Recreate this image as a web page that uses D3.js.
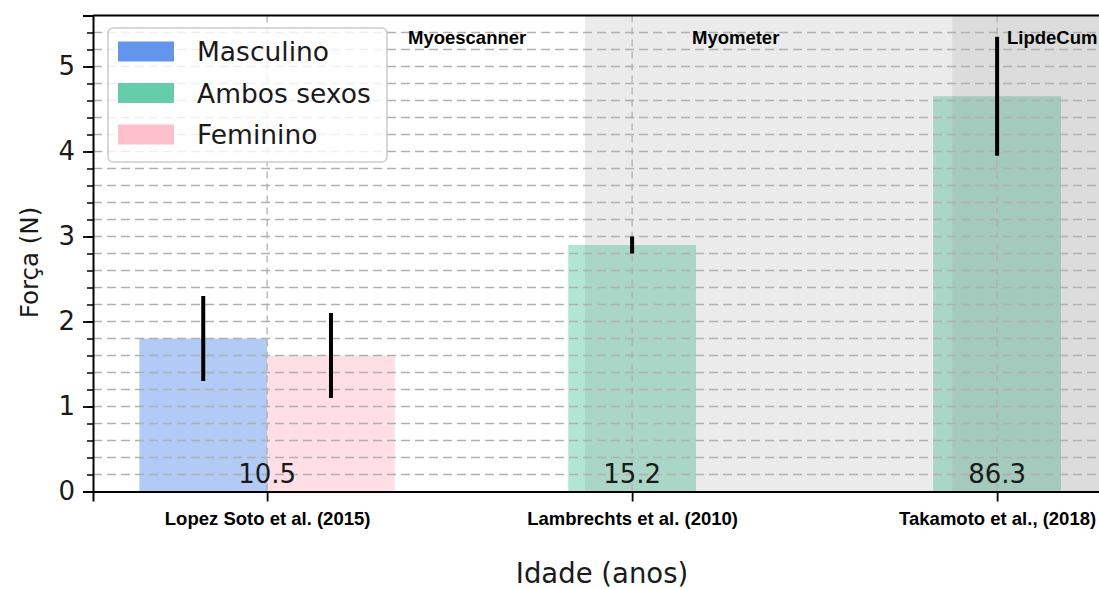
<!DOCTYPE html>
<html>
<head>
<meta charset="utf-8">
<script src="https://cdn.jsdelivr.net/npm/d3@7"></script>
<style>
  html, body { margin: 0; padding: 0; background: #ffffff; }
  svg { display: block; }
  text { font-family: "DejaVu Sans", sans-serif; }
</style>
</head>
<body>
<svg id="chart" width="1099" height="589"></svg>
<script>
// Studies on the x axis, with the mean age of each sample and the device used
const studies = ["Lopez Soto et al. (2015)", "Lambrechts et al. (2010)", "Takamoto et al., (2018)"];
const ages = ["10.5", "15.2", "86.3"];
const devices = ["Myoescanner", "Myometer", "LipdeCum"];

// Legend groups and their colours
const groups = ["Masculino", "Ambos sexos", "Feminino"];
const groupColors = ["#6495ED", "#66CDAA", "#FFC0CB"];

// One entry per bar: study index, group, mean force (N) and standard deviation
const barStudy = [0, 0, 1, 2];
const barGroup = ["Masculino", "Feminino", "Ambos sexos", "Ambos sexos"];
const barForce = [1.8, 1.6, 2.9, 4.65];
const barSd = [0.5, 0.5, 0.1, 0.7];

// Axis ticks
const yMajorTicks = [0, 1, 2, 3, 4, 5];
const yMinorStep = 0.2;

const svg = d3.select("#chart");
const pLeft = 93, pRight = 1111, pTop = 15.5, pBottom = 491.5;
const barWidth = 0.35;

const x = d3.scaleLinear().domain([-0.477, 2.312]).range([pLeft, pRight]);
const y = d3.scaleLinear().domain([0, 5.6]).range([pBottom, pTop]);
const color = d3.scaleOrdinal().domain(groups).range(groupColors);

const yMinorTicks = d3.range(0, 5.6001, yMinorStep).map(v => +v.toFixed(2));

const plot = svg.append("g");
plot.append("clipPath").attr("id", "clip")
  .append("rect").attr("x", pLeft).attr("y", pTop).attr("width", pRight - pLeft).attr("height", pBottom - pTop);
const inner = plot.append("g").attr("clip-path", "url(#clip)");

// Bars, offset side by side when a study reports both sexes
const barX = barStudy.map((s, i) => {
  const siblings = barStudy.map((t, j) => j).filter(j => barStudy[j] === s);
  const k = siblings.indexOf(i), n = siblings.length;
  return s + (k - (n - 1) / 2) * barWidth;
});

inner.selectAll("rect.bar").data(barForce).join("rect")
  .attr("class", "bar")
  .attr("x", (d, i) => x(barX[i] - barWidth / 2))
  .attr("width", (d, i) => x(barX[i] + barWidth / 2) - x(barX[i] - barWidth / 2))
  .attr("y", d => y(d))
  .attr("height", d => y(0) - y(d))
  .attr("fill", (d, i) => color(barGroup[i]))
  .attr("fill-opacity", 0.5);

// Shaded bands for the second and third device
inner.append("rect")
  .attr("x", x(0.871)).attr("width", x(1.877) - x(0.871))
  .attr("y", pTop).attr("height", pBottom - pTop)
  .attr("fill", "#808080").attr("fill-opacity", 0.16);
inner.append("rect")
  .attr("x", x(1.877)).attr("width", pRight - x(1.877))
  .attr("y", pTop).attr("height", pBottom - pTop)
  .attr("fill", "#808080").attr("fill-opacity", 0.28);

// Dashed grid
inner.selectAll("line.hgrid").data(yMinorTicks.filter(v => v > 0 && v < 5.6)).join("line")
  .attr("class", "hgrid")
  .attr("x1", pLeft).attr("x2", pRight)
  .attr("y1", d => y(d)).attr("y2", d => y(d))
  .attr("stroke", "#b0b0b0").attr("stroke-width", 1.6)
  .attr("stroke-dasharray", "9,5");
inner.selectAll("line.vgrid").data(studies.map((s, i) => i)).join("line")
  .attr("class", "vgrid")
  .attr("x1", d => x(d)).attr("x2", d => x(d))
  .attr("y1", pTop).attr("y2", pBottom)
  .attr("stroke", "#b0b0b0").attr("stroke-width", 1.3)
  .attr("stroke-dasharray", "7,5");

// Error bars
inner.selectAll("line.err").data(barForce).join("line")
  .attr("class", "err")
  .attr("x1", (d, i) => x(barX[i])).attr("x2", (d, i) => x(barX[i]))
  .attr("y1", (d, i) => y(d - barSd[i])).attr("y2", (d, i) => y(d + barSd[i]))
  .attr("stroke", "#000").attr("stroke-width", 4);

// Mean age printed at the foot of each study
inner.selectAll("text.age").data(ages).join("text")
  .attr("class", "age")
  .attr("x", (d, i) => x(i)).attr("y", 483)
  .attr("text-anchor", "middle")
  .attr("font-size", 26).attr("fill", "#1a1a1a")
  .text(d => d);

// Device names along the top
const deviceX = [0.386, 1.164, 2.027];
inner.selectAll("text.device").data(devices).join("text")
  .attr("class", "device")
  .attr("x", (d, i) => x(deviceX[i])).attr("y", 44)
  .style("font-family", "'Liberation Sans', Arial, sans-serif")
  .attr("font-weight", "bold").attr("font-size", 18.5)
  .attr("fill", "#000")
  .text(d => d);

// Axes
const yAxis = d3.axisLeft(y).tickValues(yMajorTicks).tickFormat(d3.format("d")).tickSize(10).tickPadding(8);
const yMinor = d3.axisLeft(y).tickValues(yMinorTicks).tickFormat("").tickSize(6);
const xAxis = d3.axisBottom(x).tickValues(studies.map((s, i) => i)).tickFormat(i => studies[i]).tickSize(10).tickPadding(10);

const gy = svg.append("g").attr("transform", `translate(${pLeft},0)`).call(yAxis);
gy.selectAll("text").attr("font-size", 26).attr("fill", "#1a1a1a").style("font-family", "'DejaVu Sans', sans-serif");
gy.selectAll(".tick line").attr("stroke-width", 1.8);
const gym = svg.append("g").attr("transform", `translate(${pLeft},0)`).call(yMinor);
gym.selectAll(".tick line").attr("stroke-width", 1.5);
gym.select(".domain").remove();

const gx = svg.append("g").attr("transform", `translate(0,${pBottom})`).call(xAxis);
gx.selectAll("text")
  .style("font-family", "'Liberation Sans', Arial, sans-serif")
  .attr("font-weight", "bold").attr("font-size", 18.5).attr("fill", "#000");
gx.selectAll(".tick line").attr("stroke-width", 1.8);

svg.selectAll(".domain").attr("stroke", "#000").attr("stroke-width", 2);
svg.append("line").attr("x1", pLeft).attr("x2", pRight).attr("y1", pTop).attr("y2", pTop)
  .attr("stroke", "#000").attr("stroke-width", 2);

// Axis titles
svg.append("text")
  .attr("x", (pLeft + pRight) / 2).attr("y", 583)
  .attr("text-anchor", "middle").attr("font-size", 27.5).attr("fill", "#1a1a1a")
  .text("Idade (anos)");
svg.append("text")
  .attr("transform", `translate(38,${(pTop + pBottom) / 2 + 9}) rotate(-90)`)
  .attr("text-anchor", "middle").attr("font-size", 24.5).attr("fill", "#1a1a1a")
  .text("Força (N)");

// Legend
const legend = svg.append("g").attr("transform", "translate(108,28)");
legend.append("rect")
  .attr("width", 279).attr("height", 134).attr("rx", 5)
  .attr("fill", "#fff").attr("fill-opacity", 0.8)
  .attr("stroke", "#cccccc").attr("stroke-width", 1.5);
const items = legend.selectAll("g.item").data(groups).join("g")
  .attr("class", "item")
  .attr("transform", (d, i) => `translate(10,${23.5 + i * 41.5})`);
items.append("rect")
  .attr("x", 0).attr("y", -10).attr("width", 56).attr("height", 20)
  .attr("fill", d => color(d));
items.append("text")
  .attr("x", 79).attr("y", 9.5)
  .attr("font-size", 26.5).attr("fill", "#1a1a1a")
  .text(d => d);
</script>
</body>
</html>
